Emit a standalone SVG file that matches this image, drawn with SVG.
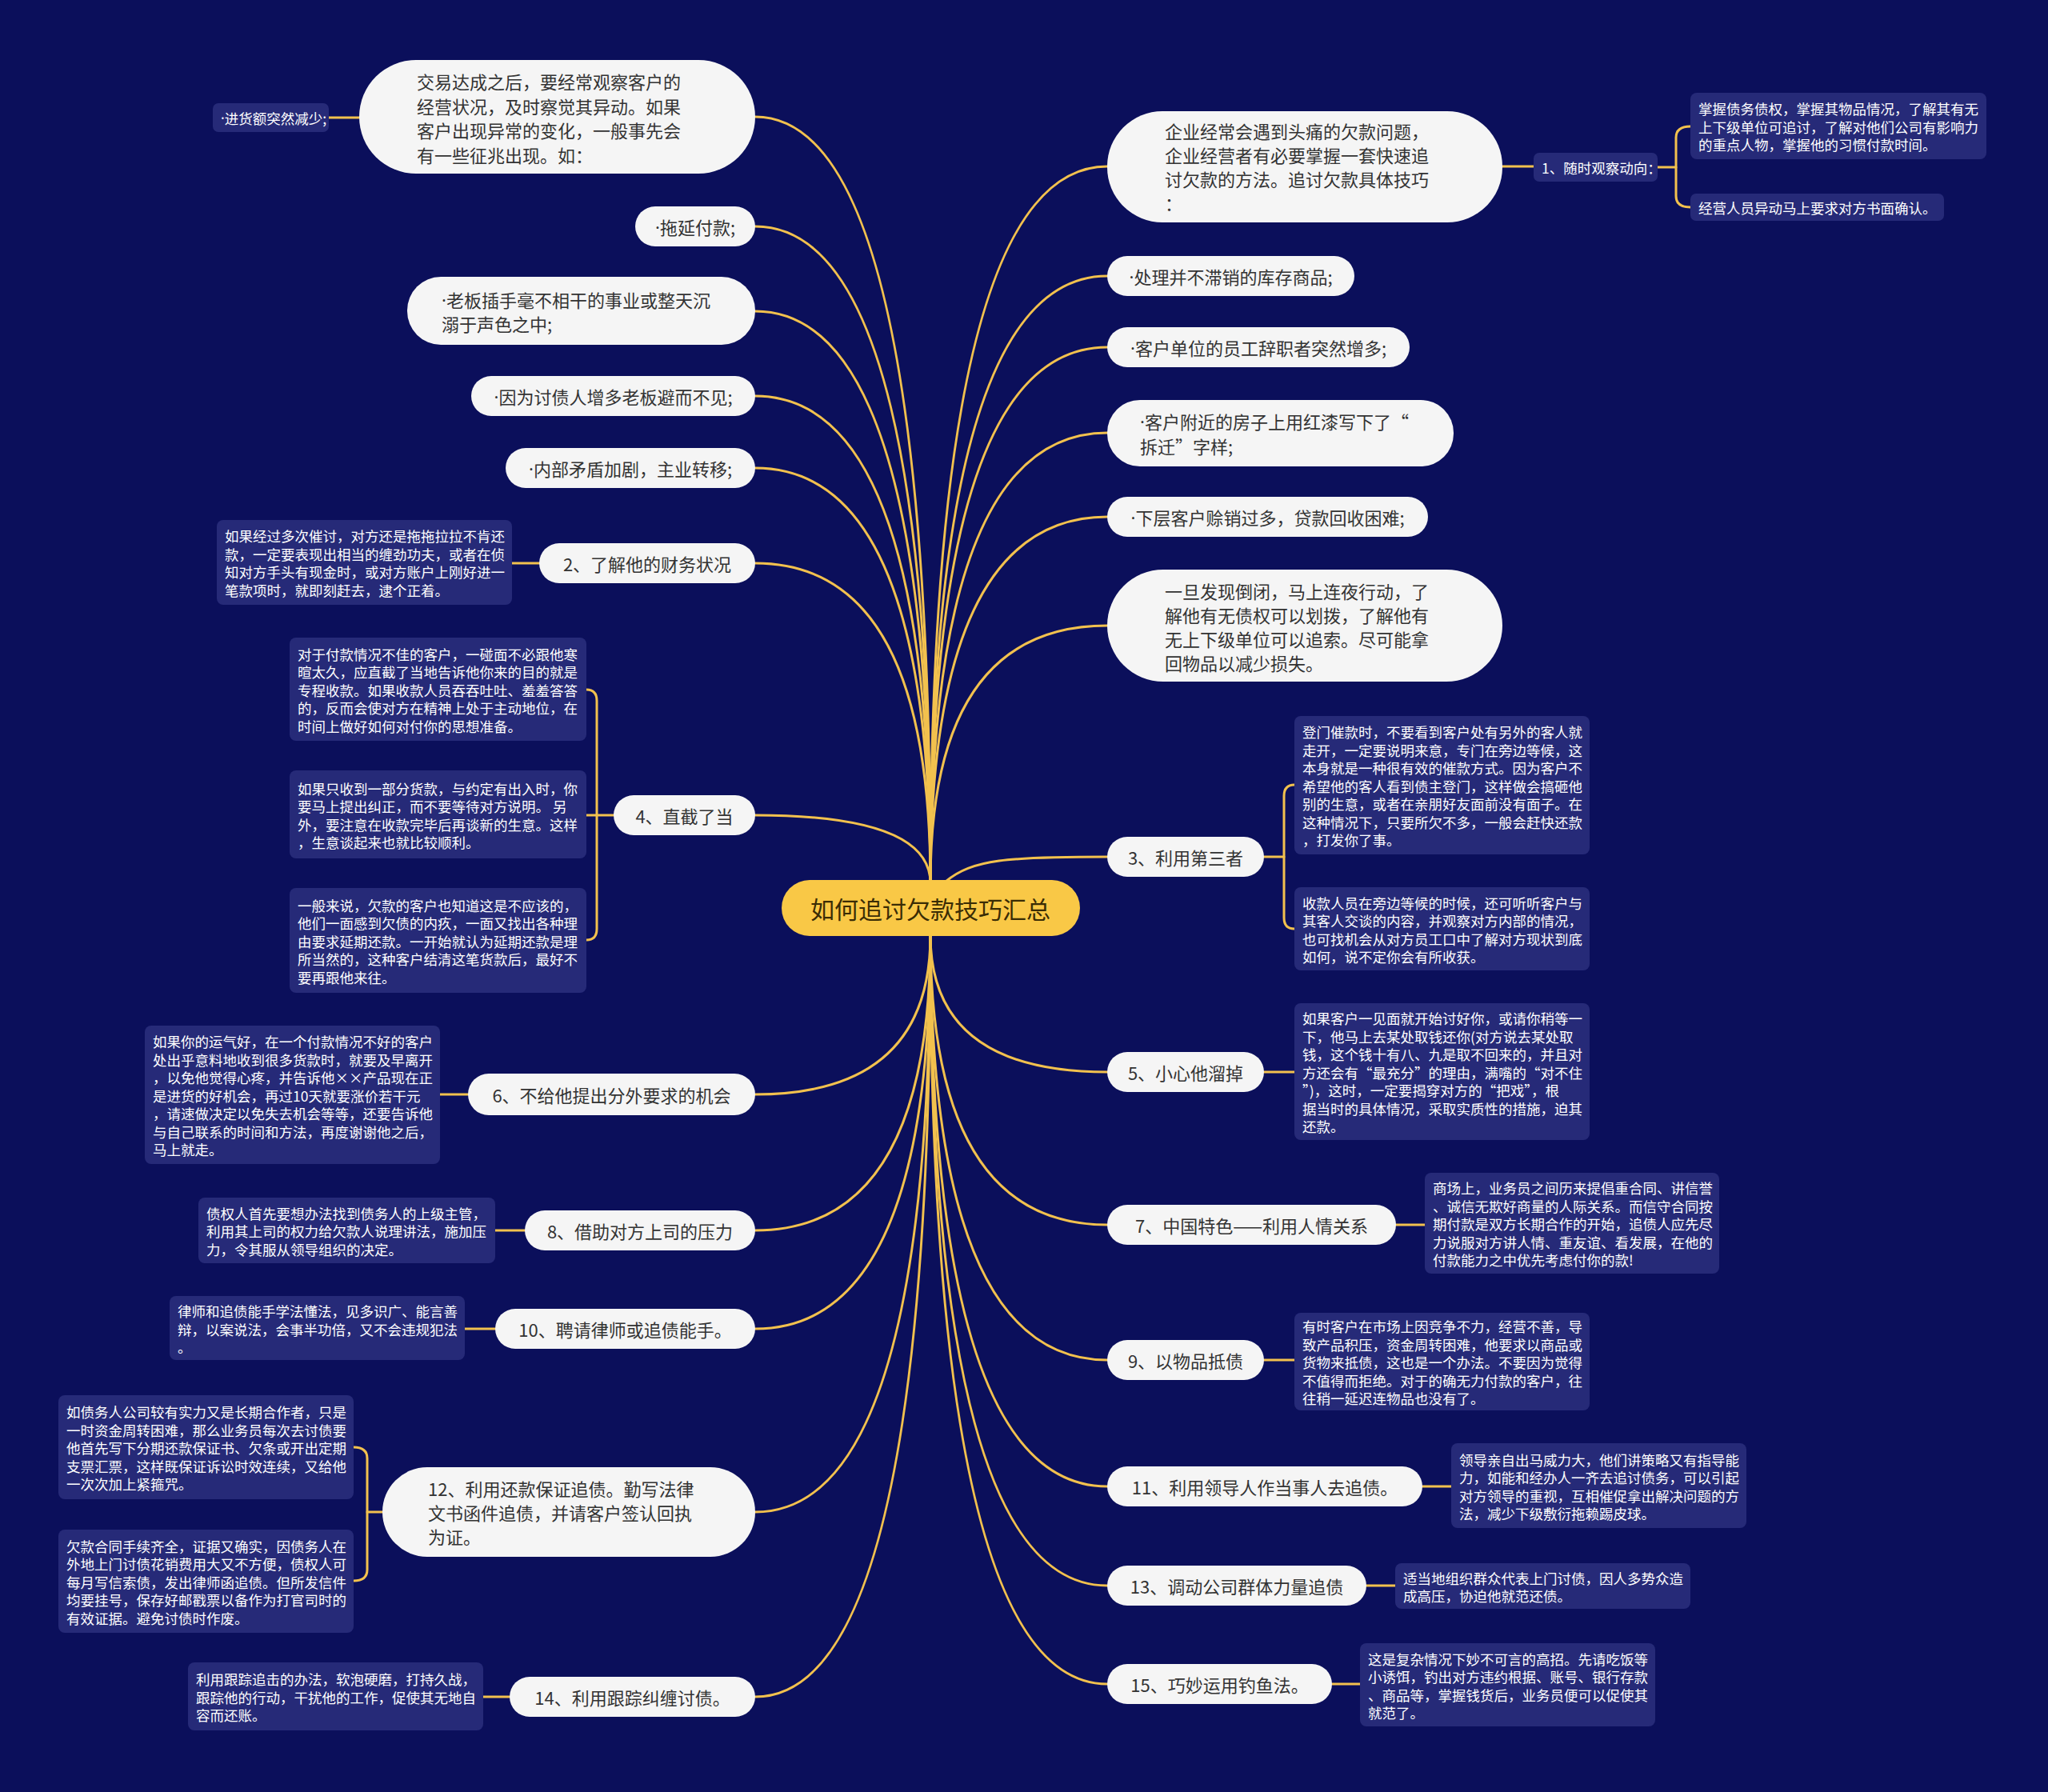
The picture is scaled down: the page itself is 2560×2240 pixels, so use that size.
<svg xmlns="http://www.w3.org/2000/svg" width="2560" height="2240" viewBox="0 0 2560 2240">
<style>
.pill{fill:#f5f5f5}
.pt{font-family:"Noto Sans CJK SC","Noto Sans",sans-serif;font-size:22px;fill:#333333;dominant-baseline:central}
.c{text-anchor:middle}
.d{font-family:"Noto Sans","Liberation Sans",sans-serif}
.note{fill:#262a78}
.nt{font-family:"Noto Sans CJK SC","Noto Sans",sans-serif;font-size:17.5px;fill:#ffffff;dominant-baseline:central}
.ln{stroke:#f2c14e;stroke-width:3;fill:none;stroke-linecap:round}
.ctr{fill:#f9c846}
.ctt{font-family:"Noto Sans CJK SC","Noto Sans",sans-serif;font-size:30px;fill:#3a2c05;dominant-baseline:central;text-anchor:middle}
</style>
<rect x="0" y="0" width="2560" height="2240" fill="#0b0f5b"/>

<g id="connectors">
<path class="ln" d="M1163 1104 Q1163 146 944 146"/>
<path class="ln" d="M1163 1104 Q1163 283 944 283"/>
<path class="ln" d="M1163 1104 Q1163 389 944 389"/>
<path class="ln" d="M1163 1104 Q1163 495 944 495"/>
<path class="ln" d="M1163 1104 Q1163 585 944 585"/>
<path class="ln" d="M1163 1104 Q1163 704 944 704"/>
<path class="ln" d="M1163 1104 Q1163 1019 944 1019"/>
<path class="ln" d="M1163 1104 Q1163 208 1384 208"/>
<path class="ln" d="M1163 1104 Q1163 345 1384 345"/>
<path class="ln" d="M1163 1104 Q1163 434 1384 434"/>
<path class="ln" d="M1163 1104 Q1163 541 1384 541"/>
<path class="ln" d="M1163 1104 Q1163 646 1384 646"/>
<path class="ln" d="M1163 1104 Q1163 782 1384 782"/>
<path class="ln" d="M1182 1102 C1215 1074 1260 1071 1384 1071"/>
<path class="ln" d="M1163 1169 Q1163 1368 944 1368"/>
<path class="ln" d="M1163 1169 Q1163 1538 944 1538"/>
<path class="ln" d="M1163 1169 Q1163 1661 944 1661"/>
<path class="ln" d="M1163 1169 Q1163 1890 944 1890"/>
<path class="ln" d="M1163 1169 Q1163 2121 944 2121"/>
<path class="ln" d="M1163 1169 Q1163 1340 1384 1340"/>
<path class="ln" d="M1163 1169 Q1163 1531 1384 1531"/>
<path class="ln" d="M1163 1169 Q1163 1700 1384 1700"/>
<path class="ln" d="M1163 1169 Q1163 1858 1384 1858"/>
<path class="ln" d="M1163 1169 Q1163 1982 1384 1982"/>
<path class="ln" d="M1163 1169 Q1163 2105 1384 2105"/>
<path class="ln" d="M411 147 H449"/>
<path class="ln" d="M640 704 H674"/>
<path class="ln" d="M767 1019 H733"/>
<path class="ln" d="M733 862 Q746 862 746 876 V1161 Q746 1175 733 1175"/>
<path class="ln" d="M550 1368 H585"/>
<path class="ln" d="M619 1538 H656"/>
<path class="ln" d="M581 1661 H619"/>
<path class="ln" d="M478 1890 H459"/>
<path class="ln" d="M442 1809 Q459 1809 459 1823 V1962 Q459 1976 442 1976"/>
<path class="ln" d="M604 2121 H637"/>
<path class="ln" d="M1878 208 H1917"/>
<path class="ln" d="M2072 209 H2095"/>
<path class="ln" d="M2113 158 Q2095 158 2095 172 V245 Q2095 259 2113 259"/>
<path class="ln" d="M1580 1071 H1605"/>
<path class="ln" d="M1618 981 Q1605 981 1605 995 V1147 Q1605 1161 1618 1161"/>
<path class="ln" d="M1580 1340 H1618"/>
<path class="ln" d="M1745 1531 H1781"/>
<path class="ln" d="M1580 1700 H1618"/>
<path class="ln" d="M1778 1858 H1814"/>
<path class="ln" d="M1708 1982 H1744"/>
<path class="ln" d="M1665 2105 H1700"/>
</g>

<g id="center">
<rect class="ctr" x="977" y="1100" width="373" height="70" rx="35"/>
<text class="ctt" x="1163" y="1135">如何追讨欠款技巧汇总</text>
</g>

<g id="L1">
<rect class="pill" x="449" y="75" width="495" height="142" rx="71"/>
<text class="pt" x="521" y="101"><tspan x="521" dy="0">交易达成之后，要经常观察客户的</tspan><tspan x="521" dy="30.5">经营状况，及时察觉其异动。如果</tspan><tspan x="521" dy="30.5">客户出现异常的变化，一般事先会</tspan><tspan x="521" dy="30.5">有一些征兆出现。如：</tspan></text>
</g>
<g id="L1n">
<rect class="note" x="266" y="129" width="145" height="36" rx="7"/>
<text class="nt" x="276" y="147"><tspan class="d">·</tspan>进货额突然减少;</text>
</g>
<g id="L2">
<rect class="pill" x="794" y="258" width="150" height="50" rx="25"/>
<text class="pt c" x="869" y="283"><tspan class="d">·</tspan>拖延付款;</text>
</g>
<g id="L3">
<rect class="pill" x="509" y="346" width="435" height="85" rx="42"/>
<text class="pt" x="552" y="374"><tspan x="552" dy="0"><tspan class="d">·</tspan>老板插手毫不相干的事业或整天沉</tspan><tspan x="552" dy="30">溺于声色之中;</tspan></text>
</g>
<g id="L4">
<rect class="pill" x="589" y="470" width="355" height="50" rx="25"/>
<text class="pt c" x="766.5" y="495"><tspan class="d">·</tspan>因为讨债人增多老板避而不见;</text>
</g>
<g id="L5">
<rect class="pill" x="632" y="560" width="312" height="50" rx="25"/>
<text class="pt c" x="788" y="585"><tspan class="d">·</tspan>内部矛盾加剧，主业转移;</text>
</g>
<g id="L6">
<rect class="pill" x="674" y="679" width="270" height="50" rx="25"/>
<text class="pt c" x="809" y="704">2、了解他的财务状况</text>
</g>
<g id="L6n">
<rect class="note" x="271" y="650" width="369" height="106" rx="8"/>
<text class="nt" x="281" y="669"><tspan x="281" dy="0">如果经过多次催讨，对方还是拖拖拉拉不肯还</tspan><tspan x="281" dy="22.5">款，一定要表现出相当的缠劲功夫，或者在侦</tspan><tspan x="281" dy="22.5">知对方手头有现金时，或对方账户上刚好进一</tspan><tspan x="281" dy="22.5">笔款项时，就即刻赶去，逮个正着。</tspan></text>
</g>
<g id="L7">
<rect class="pill" x="767" y="994" width="177" height="50" rx="25"/>
<text class="pt c" x="855.5" y="1019">4、直截了当</text>
</g>
<g id="L7n1">
<rect class="note" x="362" y="797" width="371" height="129" rx="8"/>
<text class="nt" x="372" y="816.5"><tspan x="372" dy="0">对于付款情况不佳的客户，一碰面不必跟他寒</tspan><tspan x="372" dy="22.5">暄太久，应直截了当地告诉他你来的目的就是</tspan><tspan x="372" dy="22.5">专程收款。如果收款人员吞吞吐吐、羞羞答答</tspan><tspan x="372" dy="22.5">的，反而会使对方在精神上处于主动地位，在</tspan><tspan x="372" dy="22.5">时间上做好如何对付你的思想准备。</tspan></text>
</g>
<g id="L7n2">
<rect class="note" x="362" y="963" width="371" height="110" rx="8"/>
<text class="nt" x="372" y="984.5"><tspan x="372" dy="0">如果只收到一部分货款，与约定有出入时，你</tspan><tspan x="372" dy="22.5">要马上提出纠正，而不要等待对方说明。 另</tspan><tspan x="372" dy="22.5">外，要注意在收款完毕后再谈新的生意。这样</tspan><tspan x="372" dy="22.5">，生意谈起来也就比较顺利。</tspan></text>
</g>
<g id="L7n3">
<rect class="note" x="362" y="1110" width="371" height="131" rx="8"/>
<text class="nt" x="372" y="1130.5"><tspan x="372" dy="0">一般来说，欠款的客户也知道这是不应该的，</tspan><tspan x="372" dy="22.5">他们一面感到欠债的内疚，一面又找出各种理</tspan><tspan x="372" dy="22.5">由要求延期还款。一开始就认为延期还款是理</tspan><tspan x="372" dy="22.5">所当然的，这种客户结清这笔货款后，最好不</tspan><tspan x="372" dy="22.5">要再跟他来往。</tspan></text>
</g>
<g id="L8">
<rect class="pill" x="585" y="1342" width="359" height="52" rx="26"/>
<text class="pt c" x="764.5" y="1368">6、不给他提出分外要求的机会</text>
</g>
<g id="L8n">
<rect class="note" x="181" y="1282" width="369" height="173" rx="8"/>
<text class="nt" x="191" y="1301"><tspan x="191" dy="0">如果你的运气好，在一个付款情况不好的客户</tspan><tspan x="191" dy="22.5">处出乎意料地收到很多货款时，就要及早离开</tspan><tspan x="191" dy="22.5">，以免他觉得心疼，并告诉他××产品现在正</tspan><tspan x="191" dy="22.5">是进货的好机会，再过10天就要涨价若干元</tspan><tspan x="191" dy="22.5">，请速做决定以免失去机会等等，还要告诉他</tspan><tspan x="191" dy="22.5">与自己联系的时间和方法，再度谢谢他之后，</tspan><tspan x="191" dy="22.5">马上就走。</tspan></text>
</g>
<g id="L9">
<rect class="pill" x="656" y="1513" width="288" height="50" rx="25"/>
<text class="pt c" x="800" y="1538">8、借助对方上司的压力</text>
</g>
<g id="L9n">
<rect class="note" x="248" y="1497" width="371" height="82" rx="8"/>
<text class="nt" x="258" y="1515.5"><tspan x="258" dy="0">债权人首先要想办法找到债务人的上级主管，</tspan><tspan x="258" dy="22.5">利用其上司的权力给欠款人说理讲法，施加压</tspan><tspan x="258" dy="22.5">力，令其服从领导组织的决定。</tspan></text>
</g>
<g id="L10">
<rect class="pill" x="619" y="1636" width="325" height="50" rx="25"/>
<text class="pt c" x="781.5" y="1661">10、聘请律师或追债能手。</text>
</g>
<g id="L10n">
<rect class="note" x="212" y="1620" width="369" height="80" rx="8"/>
<text class="nt" x="222" y="1638"><tspan x="222" dy="0">律师和追债能手学法懂法，见多识广、能言善</tspan><tspan x="222" dy="22.5">辩，以案说法，会事半功倍，又不会违规犯法</tspan><tspan x="222" dy="22.5">。</tspan></text>
</g>
<g id="L11">
<rect class="pill" x="478" y="1834" width="466" height="112" rx="56"/>
<text class="pt" x="535" y="1860"><tspan x="535" dy="0">12、利用还款保证追债。勤写法律</tspan><tspan x="535" dy="30">文书函件追债，并请客户签认回执</tspan><tspan x="535" dy="30">为证。</tspan></text>
</g>
<g id="L11n1">
<rect class="note" x="73" y="1744" width="369" height="130" rx="8"/>
<text class="nt" x="83" y="1764"><tspan x="83" dy="0">如债务人公司较有实力又是长期合作者，只是</tspan><tspan x="83" dy="22.5">一时资金周转困难，那么业务员每次去讨债要</tspan><tspan x="83" dy="22.5">他首先写下分期还款保证书、欠条或开出定期</tspan><tspan x="83" dy="22.5">支票汇票，这样既保证诉讼时效连续，又给他</tspan><tspan x="83" dy="22.5">一次次加上紧箍咒。</tspan></text>
</g>
<g id="L11n2">
<rect class="note" x="73" y="1912" width="369" height="129" rx="8"/>
<text class="nt" x="83" y="1931.5"><tspan x="83" dy="0">欠款合同手续齐全，证据又确实，因债务人在</tspan><tspan x="83" dy="22.5">外地上门讨债花销费用大又不方便，债权人可</tspan><tspan x="83" dy="22.5">每月写信索债，发出律师函追债。但所发信件</tspan><tspan x="83" dy="22.5">均要挂号，保存好邮戳票以备作为打官司时的</tspan><tspan x="83" dy="22.5">有效证据。避免讨债时作废。</tspan></text>
</g>
<g id="L12">
<rect class="pill" x="637" y="2096" width="307" height="50" rx="25"/>
<text class="pt c" x="790.5" y="2121">14、利用跟踪纠缠讨债。</text>
</g>
<g id="L12n">
<rect class="note" x="235" y="2078" width="369" height="85" rx="8"/>
<text class="nt" x="245" y="2098"><tspan x="245" dy="0">利用跟踪追击的办法，软泡硬磨，打持久战，</tspan><tspan x="245" dy="22.5">跟踪他的行动，干扰他的工作，促使其无地自</tspan><tspan x="245" dy="22.5">容而还账。</tspan></text>
</g>

<g id="R1">
<rect class="pill" x="1384" y="139" width="494" height="139" rx="69"/>
<text class="pt" x="1456" y="163"><tspan x="1456" dy="0">企业经常会遇到头痛的欠款问题，</tspan><tspan x="1456" dy="30">企业经营者有必要掌握一套快速追</tspan><tspan x="1456" dy="30">讨欠款的方法。追讨欠款具体技巧</tspan><tspan x="1456" dy="30">：</tspan></text>
</g>
<g id="R1s">
<rect class="note" x="1917" y="191" width="155" height="36" rx="7"/>
<text class="nt" x="1927" y="209">1、随时观察动向：</text>
</g>
<g id="R1a">
<rect class="note" x="2113" y="116" width="370" height="83" rx="8"/>
<text class="nt" x="2123" y="135"><tspan x="2123" dy="0">掌握债务债权，掌握其物品情况，了解其有无</tspan><tspan x="2123" dy="22.5">上下级单位可追讨，了解对他们公司有影响力</tspan><tspan x="2123" dy="22.5">的重点人物，掌握他的习惯付款时间。</tspan></text>
</g>
<g id="R1b">
<rect class="note" x="2113" y="242" width="317" height="34" rx="7"/>
<text class="nt" x="2123" y="259">经营人员异动马上要求对方书面确认。</text>
</g>
<g id="R2">
<rect class="pill" x="1384" y="320" width="309" height="50" rx="25"/>
<text class="pt c" x="1538.5" y="345"><tspan class="d">·</tspan>处理并不滞销的库存商品;</text>
</g>
<g id="R3">
<rect class="pill" x="1384" y="409" width="378" height="50" rx="25"/>
<text class="pt c" x="1573" y="434"><tspan class="d">·</tspan>客户单位的员工辞职者突然增多;</text>
</g>
<g id="R4">
<rect class="pill" x="1384" y="500" width="433" height="83" rx="41"/>
<text class="pt" x="1425" y="526"><tspan x="1425" dy="0"><tspan class="d">·</tspan>客户附近的房子上用红漆写下了“</tspan><tspan x="1425" dy="31">拆迁”字样;</tspan></text>
</g>
<g id="R5">
<rect class="pill" x="1384" y="621" width="401" height="50" rx="25"/>
<text class="pt c" x="1584.5" y="646"><tspan class="d">·</tspan>下层客户赊销过多，贷款回收困难;</text>
</g>
<g id="R6">
<rect class="pill" x="1384" y="712" width="494" height="140" rx="70"/>
<text class="pt" x="1456" y="738"><tspan x="1456" dy="0">一旦发现倒闭，马上连夜行动，了</tspan><tspan x="1456" dy="30">解他有无债权可以划拨，了解他有</tspan><tspan x="1456" dy="30">无上下级单位可以追索。尽可能拿</tspan><tspan x="1456" dy="30">回物品以减少损失。</tspan></text>
</g>
<g id="R7">
<rect class="pill" x="1384" y="1046" width="196" height="50" rx="25"/>
<text class="pt c" x="1482" y="1071">3、利用第三者</text>
</g>
<g id="R7a">
<rect class="note" x="1618" y="895" width="369" height="173" rx="8"/>
<text class="nt" x="1628" y="914"><tspan x="1628" dy="0">登门催款时，不要看到客户处有另外的客人就</tspan><tspan x="1628" dy="22.5">走开，一定要说明来意，专门在旁边等候，这</tspan><tspan x="1628" dy="22.5">本身就是一种很有效的催款方式。因为客户不</tspan><tspan x="1628" dy="22.5">希望他的客人看到债主登门，这样做会搞砸他</tspan><tspan x="1628" dy="22.5">别的生意，或者在亲朋好友面前没有面子。在</tspan><tspan x="1628" dy="22.5">这种情况下，只要所欠不多，一般会赶快还款</tspan><tspan x="1628" dy="22.5">，打发你了事。</tspan></text>
</g>
<g id="R7b">
<rect class="note" x="1618" y="1109" width="369" height="104" rx="8"/>
<text class="nt" x="1628" y="1127.5"><tspan x="1628" dy="0">收款人员在旁边等候的时候，还可听听客户与</tspan><tspan x="1628" dy="22.5">其客人交谈的内容，并观察对方内部的情况，</tspan><tspan x="1628" dy="22.5">也可找机会从对方员工口中了解对方现状到底</tspan><tspan x="1628" dy="22.5">如何，说不定你会有所收获。</tspan></text>
</g>
<g id="R8">
<rect class="pill" x="1384" y="1315" width="196" height="50" rx="25"/>
<text class="pt c" x="1482" y="1340">5、小心他溜掉</text>
</g>
<g id="R8n">
<rect class="note" x="1618" y="1254" width="369" height="171" rx="8"/>
<text class="nt" x="1628" y="1272"><tspan x="1628" dy="0">如果客户一见面就开始讨好你，或请你稍等一</tspan><tspan x="1628" dy="22.5">下，他马上去某处取钱还你(对方说去某处取</tspan><tspan x="1628" dy="22.5">钱，这个钱十有八、九是取不回来的，并且对</tspan><tspan x="1628" dy="22.5">方还会有“最充分”的理由，满嘴的“对不住</tspan><tspan x="1628" dy="22.5">”)，这时，一定要揭穿对方的“把戏”，根</tspan><tspan x="1628" dy="22.5">据当时的具体情况，采取实质性的措施，迫其</tspan><tspan x="1628" dy="22.5">还款。</tspan></text>
</g>
<g id="R9">
<rect class="pill" x="1384" y="1506" width="361" height="50" rx="25"/>
<text class="pt c" x="1564.5" y="1531">7、中国特色——利用人情关系</text>
</g>
<g id="R9n">
<rect class="note" x="1781" y="1466" width="368" height="126" rx="8"/>
<text class="nt" x="1791" y="1484"><tspan x="1791" dy="0">商场上，业务员之间历来提倡重合同、讲信誉</tspan><tspan x="1791" dy="22.5">、诚信无欺好商量的人际关系。而信守合同按</tspan><tspan x="1791" dy="22.5">期付款是双方长期合作的开始，追债人应先尽</tspan><tspan x="1791" dy="22.5">力说服对方讲人情、重友谊、看发展，在他的</tspan><tspan x="1791" dy="22.5">付款能力之中优先考虑付你的款!</tspan></text>
</g>
<g id="R10">
<rect class="pill" x="1384" y="1675" width="196" height="50" rx="25"/>
<text class="pt c" x="1482" y="1700">9、以物品抵债</text>
</g>
<g id="R10n">
<rect class="note" x="1618" y="1641" width="369" height="122" rx="8"/>
<text class="nt" x="1628" y="1657"><tspan x="1628" dy="0">有时客户在市场上因竞争不力，经营不善，导</tspan><tspan x="1628" dy="22.5">致产品积压，资金周转困难，他要求以商品或</tspan><tspan x="1628" dy="22.5">货物来抵债，这也是一个办法。不要因为觉得</tspan><tspan x="1628" dy="22.5">不值得而拒绝。对于的确无力付款的客户，往</tspan><tspan x="1628" dy="22.5">往稍一延迟连物品也没有了。</tspan></text>
</g>
<g id="R11">
<rect class="pill" x="1384" y="1833" width="394" height="50" rx="25"/>
<text class="pt c" x="1581" y="1858">11、利用领导人作当事人去追债。</text>
</g>
<g id="R11n">
<rect class="note" x="1814" y="1804" width="369" height="106" rx="8"/>
<text class="nt" x="1824" y="1823.5"><tspan x="1824" dy="0">领导亲自出马威力大，他们讲策略又有指导能</tspan><tspan x="1824" dy="22.5">力，如能和经办人一齐去追讨债务，可以引起</tspan><tspan x="1824" dy="22.5">对方领导的重视，互相催促拿出解决问题的方</tspan><tspan x="1824" dy="22.5">法，减少下级敷衍拖赖踢皮球。</tspan></text>
</g>
<g id="R12">
<rect class="pill" x="1384" y="1957" width="324" height="50" rx="25"/>
<text class="pt c" x="1546" y="1982">13、调动公司群体力量追债</text>
</g>
<g id="R12n">
<rect class="note" x="1744" y="1954" width="369" height="57" rx="8"/>
<text class="nt" x="1754" y="1971.5"><tspan x="1754" dy="0">适当地组织群众代表上门讨债，因人多势众造</tspan><tspan x="1754" dy="22.5">成高压，协迫他就范还债。</tspan></text>
</g>
<g id="R13">
<rect class="pill" x="1384" y="2080" width="281" height="50" rx="25"/>
<text class="pt c" x="1524.5" y="2105">15、巧妙运用钓鱼法。</text>
</g>
<g id="R13n">
<rect class="note" x="1700" y="2054" width="369" height="104" rx="8"/>
<text class="nt" x="1710" y="2072.5"><tspan x="1710" dy="0">这是复杂情况下妙不可言的高招。先请吃饭等</tspan><tspan x="1710" dy="22.5">小诱饵，钓出对方违约根据、账号、银行存款</tspan><tspan x="1710" dy="22.5">、商品等，掌握钱货后，业务员便可以促使其</tspan><tspan x="1710" dy="22.5">就范了。</tspan></text>
</g>
</svg>
